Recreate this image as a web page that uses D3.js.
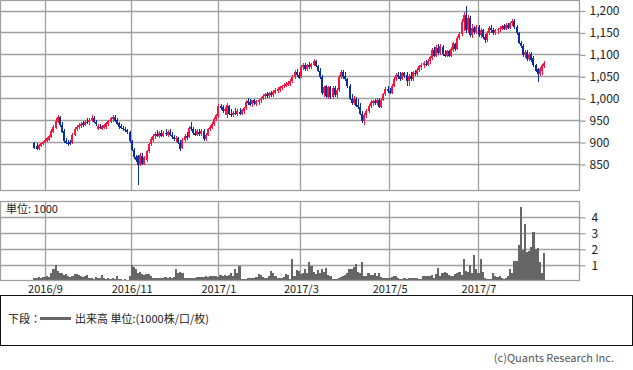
<!DOCTYPE html>
<html><head><meta charset="utf-8">
<script src="https://cdn.jsdelivr.net/npm/d3@7"></script>
<style>
html,body{margin:0;padding:0;background:#fff;}
svg{display:block;font-family:"Noto Sans CJK JP","Noto Sans",sans-serif;}
</style>
</head><body>
<svg id="c" width="633" height="370"></svg>
<script>
// ---- data (daily candles, index 0 = late Aug 2016) ----
const openP = [
900,892,886,892,896,900,904,906,912,924, 934,948,958,940,926,904,900,902,898,918,
930,935,938,944,940,948,946,952,957,948, 930,936,932,934,936,942,948,954,958,952,
944,938,933,930,928,924,904,884,866,870, 850,870,852,860,880,896,906,914,920,914,
922,916,922,918,924,918,912,908,910,900, 888,906,914,912,936,930,922,918,924,920,
926,908,918,930,934,942,954,960,984,980, 972,962,984,966,962,968,966,970,966,972,
978,994,992,988,996,988,992,996,1000,1006, 1010,1006,1012,1008,1014,1018,1020,1024,1028,1030,
1032,1034,1040,1050,1060,1054,1050,1072,1078,1068, 1076,1072,1078,1086,1074,1064,1050,1012,1028,1004,
1026,1004,1024,1008,1020,1050,1060,1052,1044,1028, 1000,990,1000,986,980,966,950,962,972,984,
990,994,990,998,982,998,1010,1022,1018,1014, 1030,1046,1054,1052,1046,1058,1054,1040,1052,1044,
1058,1056,1066,1072,1076,1080,1078,1086,1092,1112, 1098,1116,1104,1118,1102,1098,1108,1098,1112,1124,
1114,1138,1148,1176,1192,1156,1184,1146,1162,1152, 1164,1146,1156,1140,1134,1150,1162,1156,1150,1156,
1158,1160,1166,1160,1168,1162,1172,1178,1164,1150, 1128,1120,1100,1106,1090,1102,1092,1076,1068,1056,
1064,1074];
const highP = [
902,898,896,900,904,910,912,918,930,940, 955,962,960,948,930,910,906,906,922,935,
940,945,946,950,952,956,955,962,960,952, 942,942,940,942,946,952,958,962,962,956,
948,942,938,936,932,926,906,888,872,872, 876,876,870,884,900,912,920,924,928,926,
928,926,930,928,930,924,918,916,912,906, 910,920,924,938,948,936,930,930,932,930,
930,922,934,940,946,958,966,988,988,986, 980,990,986,976,972,978,976,978,976,982,
996,1002,1000,998,1000,998,1000,1004,1010,1014, 1016,1016,1018,1020,1024,1026,1030,1032,1036,1038,
1040,1044,1054,1066,1068,1060,1076,1082,1082,1080, 1084,1082,1090,1088,1078,1070,1054,1030,1032,1030,
1030,1028,1028,1024,1054,1066,1066,1060,1048,1034, 1010,1006,1004,1000,990,972,968,976,988,996,
998,1000,1002,1002,1002,1014,1026,1028,1024,1034, 1050,1058,1060,1060,1062,1062,1060,1056,1062,1064,
1066,1070,1078,1082,1086,1088,1090,1098,1116,1118, 1122,1124,1124,1122,1110,1112,1112,1118,1130,1128,
1142,1152,1182,1198,1212,1190,1188,1170,1166,1168, 1168,1162,1160,1148,1154,1166,1168,1162,1160,1162,
1166,1168,1170,1172,1172,1176,1182,1182,1168,1152, 1132,1124,1112,1110,1106,1106,1098,1080,1070,1072,
1080,1086];
const lowP = [
886,884,884,890,894,898,902,904,910,922, 930,945,935,922,900,896,893,895,896,915,
926,930,934,936,938,942,940,948,945,938, 928,930,928,930,932,938,944,948,946,940,
932,930,926,924,920,900,880,862,856,803, 846,848,850,856,876,892,902,908,912,910,
912,912,916,912,916,908,904,902,896,880, 886,902,906,910,926,918,914,914,916,914,
904,904,914,926,930,938,950,956,974,968, 964,956,962,958,958,962,960,962,962,966,
974,986,984,982,986,984,986,990,996,1000, 1002,1002,1004,1004,1010,1012,1016,1020,1024,1026,
1028,1030,1036,1046,1050,1044,1048,1066,1064,1064, 1068,1068,1074,1072,1060,1046,1008,1004,1002,1000,
1000,1000,1004,1002,1016,1044,1046,1040,1024,996, 986,986,980,976,962,944,940,956,968,978,
984,986,986,978,978,994,1006,1012,1010,1010, 1026,1040,1046,1040,1042,1048,1030,1028,1040,1040,
1052,1052,1062,1066,1070,1074,1074,1080,1088,1094, 1094,1100,1100,1098,1094,1094,1094,1094,1106,1108,
1110,1134,1144,1154,1150,1150,1140,1138,1148,1148, 1140,1138,1136,1128,1130,1146,1150,1146,1146,1148,
1152,1156,1156,1156,1158,1158,1166,1160,1146,1124, 1116,1096,1092,1086,1086,1084,1072,1060,1038,1052,
1054,1070];
const closeP = [
888,886,894,898,902,906,910,914,926,936, 950,958,940,925,904,900,898,897,918,932,
936,940,943,940,948,945,952,957,948,942, 938,934,938,939,944,950,955,958,950,943,
936,933,930,928,924,904,884,866,860,848, 872,852,866,880,896,908,916,920,914,922,
916,922,920,924,918,912,908,910,900,886, 906,916,910,934,930,922,918,926,920,926,
908,918,930,936,942,954,962,984,978,972, 976,986,966,962,968,966,972,966,974,978,
992,990,986,996,990,994,998,1000,1006,1010, 1006,1012,1008,1016,1020,1022,1026,1028,1032,1034,
1036,1040,1050,1062,1054,1048,1072,1078,1068,1076, 1072,1080,1086,1074,1064,1050,1012,1026,1006,1026,
1004,1024,1008,1020,1050,1060,1050,1044,1028,1000, 990,1002,984,980,966,950,962,972,984,992,
994,990,998,982,998,1010,1022,1018,1014,1030, 1046,1054,1050,1044,1058,1052,1040,1052,1046,1060,
1056,1066,1074,1078,1082,1078,1086,1094,1112,1098, 1118,1104,1120,1102,1098,1108,1098,1114,1126,1114,
1138,1148,1176,1190,1156,1184,1146,1162,1152,1164, 1146,1156,1140,1134,1150,1162,1156,1150,1156,1160,
1162,1166,1160,1168,1162,1172,1178,1164,1150,1128, 1120,1100,1106,1090,1102,1088,1076,1064,1056,1068,
1076,1082];
const volume = [
0.2,0.2,0.25,0.2,0.25,0.25,0.3,0.25,0.55,0.8, 1.05,0.65,0.55,0.5,0.4,0.45,0.3,0.28,0.35,0.48,
0.45,0.42,0.35,0.25,0.3,0.37,0.2,0.2,0.15,0.25, 0.22,0.18,0.4,0.2,0.15,0.18,0.15,0.2,0.15,0.3,
0.15,0.12,0.1,0.15,0.1,0.3,1.05,0.9,0.75,0.55, 0.6,0.45,0.4,0.48,0.45,0.3,0.2,0.22,0.18,0.2,
0.22,0.2,0.25,0.22,0.25,0.2,0.25,0.78,0.55,0.6, 0.55,0.2,0.2,0.2,0.18,0.2,0.2,0.25,0.28,0.28,
0.25,0.3,0.25,0.3,0.35,0.3,0.32,0.28,0.4,0.35, 0.38,0.3,0.38,0.52,0.35,0.8,0.5,0.93,0.15,0.15,
0.12,0.18,0.2,0.18,0.22,0.25,0.44,0.4,0.25,0.2, 0.22,0.3,0.65,0.55,0.3,0.2,0.22,0.18,0.25,0.45,
0.38,0.15,1.42,0.3,0.69,0.63,0.48,0.5,0.8,0.5, 1.2,0.94,0.6,0.45,0.69,0.5,0.8,0.6,0.85,0.4,
0.35,0.17,0.12,0.17,0.2,0.25,0.35,0.4,0.5,0.8, 0.75,0.9,1.1,0.6,0.55,1.2,0.35,0.35,0.5,0.4,
0.4,0.5,0.3,0.5,0.25,0.2,0.22,0.2,0.2,0.25, 0.3,0.35,0.2,0.15,0.15,0.2,0.15,0.2,0.2,0.18,
0.2,0.2,0.12,0.12,0.3,0.35,0.3,0.35,0.4,0.2, 0.45,0.85,0.35,0.55,0.6,0.5,0.4,0.3,0.3,0.45,
0.55,0.6,0.4,1.42,0.65,0.6,1.0,0.55,1.63,0.8, 0.5,1.42,0.6,0.2,0.15,0.15,0.15,0.55,0.35,0.25,
0.3,0.2,0.15,0.2,0.35,0.8,0.5,1.27,1.3,2.25, 4.64,1.94,3.56,1.85,1.9,2.15,3.06,2.0,2.06,1.2,
0.5,1.77];
const monthLabels = ["2016/9","2016/11","2017/1","2017/3","2017/5","2017/7"];
const monthIndex  = [5, 46, 87, 126, 168, 210];
const priceTicks  = [850, 900, 950, 1000, 1050, 1100, 1150, 1200];
const volumeTicks = [1, 2, 3, 4];

// ---- layout ----
const svg = d3.select("#c");
const gridC = "#a0a0a0";
const PR = 579.5;               // right edge of plot areas
const P1 = {top: 0.5, bottom: 190.5};
const P2 = {top: 201.5, bottom: 280.5};
const crisp = v => Math.round(v - 0.5) + 0.5;

const x  = d3.scaleLinear().domain([monthIndex[0], monthIndex[5]]).range([45, 478.5]);
const step = x(1) - x(0);
const yP = d3.scaleLinear().domain([850, 1200]).range([164.5, 11]);
const yV = d3.scaleLinear().domain([0, 5]).range([281.3, 201.3]);

const defs = svg.append("defs");
defs.append("clipPath").attr("id","cp1").append("rect")
  .attr("x",0.5).attr("y",P1.top).attr("width",PR-0.5).attr("height",P1.bottom-P1.top);
defs.append("clipPath").attr("id","cp2").append("rect")
  .attr("x",0.5).attr("y",P2.top).attr("width",PR-0.5).attr("height",P2.bottom-P2.top);

// ---- grids ----
function panelGrid(P) {
  const g = svg.append("g");
  g.selectAll("line.v").data(monthIndex).join("line")
    .attr("x1", d => crisp(x(d))).attr("x2", d => crisp(x(d)))
    .attr("y1", P.top).attr("y2", P.bottom)
    .attr("stroke", gridC).attr("stroke-width", 1.3);
  return g;
}
const g1 = panelGrid(P1);
g1.selectAll("line.h").data(priceTicks).join("line")
  .attr("x1", 0.5).attr("x2", PR)
  .attr("y1", d => crisp(yP(d))).attr("y2", d => crisp(yP(d)))
  .attr("stroke", gridC).attr("stroke-width", 1.3);
const g2 = panelGrid(P2);
g2.selectAll("line.h").data(volumeTicks).join("line")
  .attr("x1", 0.5).attr("x2", PR)
  .attr("y1", d => crisp(yV(d))).attr("y2", d => crisp(yV(d)))
  .attr("stroke", gridC).attr("stroke-width", 1.3);

// ---- volume bars ----
const bx0 = i => Math.round(x(i) - step / 2);
svg.append("g").attr("clip-path","url(#cp2)").attr("shape-rendering","crispEdges")
  .selectAll("rect").data(volume).join("rect")
  .attr("x", (d,i) => bx0(i))
  .attr("width", (d,i) => bx0(i + 1) - bx0(i))
  .attr("y", d => Math.round(yV(d)))
  .attr("height", d => Math.round(yV(0)) - Math.round(yV(d)))
  .attr("fill", "#666666");

// ---- candles ----
const candles = openP.map((o,i) => ({i, o, h: highP[i], l: lowP[i], c: closeP[i]}));
const up = "#f8153f", dn = "#0b2f9f";
const gc = svg.append("g").attr("clip-path","url(#cp1)");
gc.selectAll("line").data(candles).join("line")
  .attr("x1", d => Math.round(x(d.i)) + 0.5).attr("x2", d => Math.round(x(d.i)) + 0.5)
  .attr("y1", d => Math.round(yP(Math.max(d.h, d.o, d.c))))
  .attr("y2", d => Math.round(yP(Math.min(d.l, d.o, d.c))))
  .attr("stroke", d => d.c >= d.o ? up : dn).attr("stroke-width", 1);
gc.selectAll("rect").data(candles).join("rect")
  .attr("shape-rendering","crispEdges")
  .attr("x", d => Math.round(x(d.i)) - 1)
  .attr("width", 2)
  .attr("y", d => Math.round(yP(Math.max(d.o, d.c))))
  .attr("height", d => Math.max(1, Math.round(yP(Math.min(d.o, d.c))) - Math.round(yP(Math.max(d.o, d.c)))))
  .attr("fill", d => d.c >= d.o ? up : dn);

// ---- panel borders ----
[P1, P2].forEach(P => {
  svg.append("rect").attr("x",0.5).attr("y",P.top)
    .attr("width",PR-0.5).attr("height",P.bottom-P.top)
    .attr("fill","none").attr("stroke",gridC).attr("stroke-width",1.3);
});

// ---- axes ----
function styleAxis(g, size) {
  g.select(".domain").remove();
  g.selectAll(".tick line").attr("stroke", gridC).attr("stroke-width", 1.3);
  g.selectAll(".tick text").attr("fill", "#222").attr("font-size", size)
    .attr("font-family", '"Noto Sans CJK JP","Noto Sans",sans-serif');
}
const ay1 = svg.append("g").attr("transform", `translate(${PR},0)`)
  .call(d3.axisRight(yP).tickValues(priceTicks).tickSize(6).tickPadding(4).tickFormat(d3.format(",")));
styleAxis(ay1, 12);
const ay2 = svg.append("g").attr("transform", `translate(${PR},0)`)
  .call(d3.axisRight(yV).tickValues(volumeTicks).tickSize(6).tickPadding(6).tickFormat(d3.format("d")));
styleAxis(ay2, 12);
const ax = svg.append("g").attr("transform", `translate(0,${P2.bottom})`)
  .call(d3.axisBottom(x).tickValues(monthIndex).tickSize(0).tickPadding(5)
    .tickFormat((d,i) => monthLabels[i]));
styleAxis(ax, 11);

// ---- labels ----
svg.append("text").attr("x", 6).attr("y", 213).attr("font-size", 11).attr("fill", "#222")
  .text("単位: 1000");

// legend box
svg.append("rect").attr("x",0.5).attr("y",295.5).attr("width",632).attr("height",50)
  .attr("fill","none").attr("stroke","#111").attr("stroke-width",1);
svg.append("text").attr("x", 8).attr("y", 323).attr("font-size", 11).attr("fill","#222").text("下段：");
svg.append("line").attr("x1", 40).attr("x2", 71).attr("y1", 318.5).attr("y2", 318.5)
  .attr("stroke", "#666").attr("stroke-width", 3);
svg.append("text").attr("x", 75).attr("y", 323).attr("font-size", 11).attr("fill","#222")
  .text("出来高 単位:(1000株/口/枚)");

svg.append("text").attr("x", 614).attr("y", 362).attr("text-anchor","end")
  .attr("font-size", 11).attr("fill","#555").text("(c)Quants Research Inc.");
</script>
</body></html>
